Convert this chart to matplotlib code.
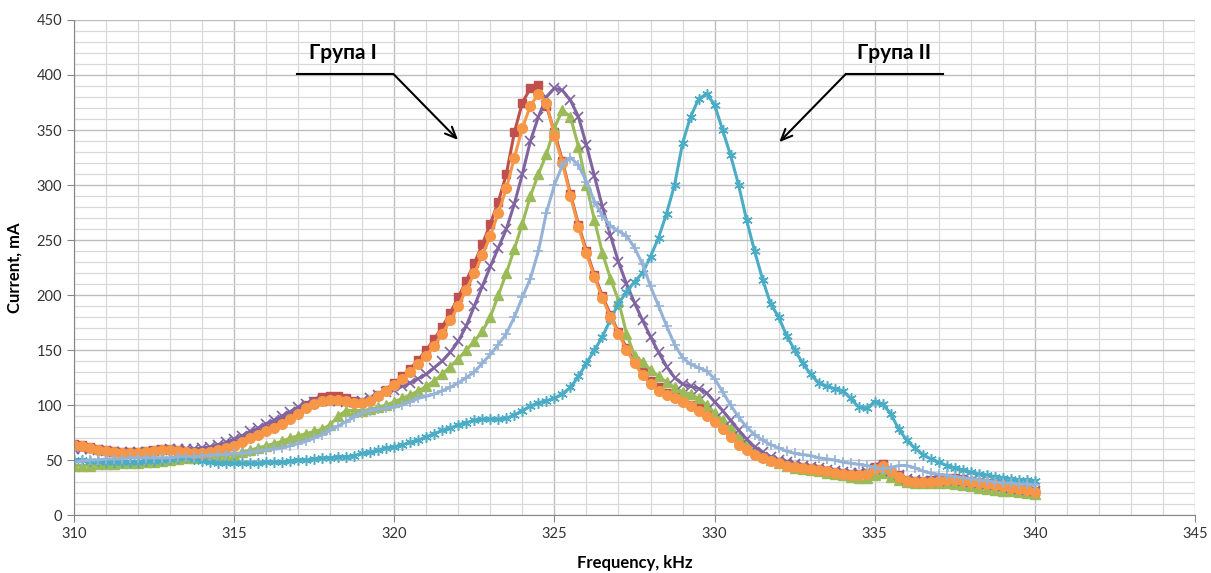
import numpy as np
import matplotlib
matplotlib.use("Agg")
import matplotlib.pyplot as plt
from matplotlib.ticker import MultipleLocator

plt.rcParams['font.family'] = ['Lato', 'Open Sans', 'DejaVu Sans']

# frequency grid, kHz (one reading every 0.25 kHz)
freq = np.arange(310, 340.001, 0.25)

# current readings, mA
red_sq = [
    65, 64, 62, 60, 59, 58, 57, 57,
    57, 58, 59, 60, 60, 59, 58, 57,
    57, 58, 60, 62, 65, 68, 72, 75,
    78, 82, 86, 90, 95, 100, 104, 107,
    108, 108, 106, 104, 103, 105, 109, 114,
    120, 126, 133, 141, 150, 160, 171, 184,
    198, 213, 229, 246, 265, 285, 310, 348,
    375, 388, 391, 372, 348, 322, 292, 264,
    240, 218, 199, 182, 166, 152, 140, 130,
    122, 116, 111, 107, 104, 100, 97, 92,
    87, 81, 74, 67, 61, 57, 53, 50,
    48, 46, 45, 44, 43, 42, 40, 39,
    38, 37, 37, 38, 44, 46, 41, 36,
    32, 31, 31, 32, 33, 34, 34, 33,
    31, 30, 29, 28, 27, 26, 25, 24,
    22,
]

green_tri = [
    45, 45, 45, 46, 46, 46, 47, 47,
    47, 48, 48, 49, 50, 51, 52, 52,
    53, 53, 53, 54, 55, 57, 59, 61,
    63, 65, 67, 70, 72, 74, 76, 78,
    82, 90, 95, 95, 95, 96, 98, 100,
    103, 106, 109, 113, 117, 122, 128, 135,
    142, 150, 158, 167, 180, 200, 220, 242,
    265, 290, 310, 328, 352, 368, 362, 335,
    300, 268, 238, 215, 195, 165, 145, 139,
    132, 126, 121, 116, 112, 110, 106, 100,
    93, 86, 79, 71, 64, 58, 54, 50,
    47, 45, 43, 42, 41, 40, 38, 37,
    36, 35, 34, 34, 36, 38, 35, 32,
    30, 29, 29, 29, 29, 29, 28, 27,
    26, 25, 24, 23, 22, 22, 21, 20,
    19,
]

purple_x = [
    60, 60, 60, 59, 58, 57, 57, 57,
    57, 57, 58, 59, 60, 60, 60, 60,
    61, 62, 64, 66, 69, 72, 76, 79,
    83, 86, 90, 94, 98, 101, 103, 104,
    104, 104, 103, 103, 104, 106, 109, 112,
    114, 117, 120, 124, 128, 134, 140, 148,
    158, 172, 190, 208, 226, 243, 260, 283,
    310, 340, 362, 380, 388, 386, 377, 362,
    336, 308, 280, 254, 230, 210, 193, 177,
    162, 148, 135, 125, 119, 117, 115, 111,
    103, 95, 86, 77, 69, 62, 57, 53,
    50, 48, 46, 45, 44, 43, 41, 40,
    39, 38, 38, 39, 42, 44, 40, 36,
    33, 32, 31, 31, 31, 32, 32, 31,
    30, 29, 28, 27, 26, 25, 24, 23,
    22,
]

teal_star = [
    50, 50, 49, 49, 48, 48, 48, 48,
    48, 49, 49, 50, 51, 52, 53, 51,
    49, 48, 47, 47, 47, 47, 47, 47,
    48, 48, 48, 49, 50, 50, 51, 52,
    52, 53, 53, 54, 56, 57, 59, 61,
    62, 64, 66, 68, 71, 74, 77, 79,
    82, 84, 86, 87, 87, 87, 88, 91,
    95, 99, 102, 104, 106, 110, 116, 126,
    138, 150, 162, 178, 192, 203, 212, 220,
    235, 252, 274, 300, 338, 362, 378, 383,
    373, 350, 327, 300, 268, 240, 214, 192,
    180, 163, 150, 138, 128, 120, 117, 115,
    113, 106, 98, 97, 103, 101, 92, 78,
    68, 61, 55, 51, 48, 45, 43, 41,
    39, 37, 36, 35, 34, 33, 32, 32,
    31,
]

orange_o = [
    64, 63, 61, 59, 58, 57, 56, 56,
    56, 57, 58, 59, 59, 58, 57, 56,
    56, 57, 59, 61, 63, 66, 70, 73,
    76, 79, 83, 87, 92, 97, 101, 104,
    105, 105, 104, 102, 102, 104, 108, 113,
    118, 124, 130, 137, 145, 154, 165, 177,
    190, 205, 220, 236, 254, 275, 297, 325,
    352, 372, 383, 375, 345, 320, 290, 262,
    238, 216, 197, 180, 165, 150, 138, 127,
    119, 113, 109, 106, 103, 99, 95, 90,
    85, 78, 71, 64, 59, 55, 52, 49,
    47, 45, 44, 43, 42, 41, 40, 38,
    37, 36, 36, 37, 42, 45, 40, 35,
    31, 30, 30, 30, 31, 32, 32, 31,
    30, 29, 28, 27, 26, 25, 24, 23,
    21,
]

lblue_plus = [
    48, 49, 50, 50, 51, 51, 51, 52,
    52, 52, 52, 52, 52, 53, 53, 53,
    54, 54, 55, 55, 56, 56, 57, 58,
    59, 60, 61, 63, 65, 67, 70, 73,
    77, 81, 85, 89, 93, 95, 96, 97,
    98, 100, 103, 106, 108, 110, 113, 116,
    120, 125, 130, 138, 146, 155, 165, 180,
    198, 215, 240, 275, 300, 318, 325, 318,
    303, 285, 272, 263, 258, 254, 243, 228,
    208, 190, 172, 155, 143, 137, 134, 131,
    124, 112, 100, 89, 80, 73, 68, 64,
    61, 58, 56, 55, 54, 52, 51, 50,
    48, 47, 46, 45, 43, 42, 43, 45,
    45, 43, 40, 38, 37, 36, 35, 34,
    33, 32, 31, 30, 29, 29, 28, 28,
    27,
]

series = [
    (red_sq, '#C0504D', 's', 6.0, 0),
    (green_tri, '#9BBB59', '^', 7.0, 0),
    (purple_x, '#8064A2', 'x', 6.5, 1.2),
    (teal_star, '#4BACC6', (6, 2, 0), 7.5, 1.1),
    (orange_o, '#F79646', 'o', 7.0, 0),
    (lblue_plus, '#95B3D7', '+', 7.5, 1.2),
]

fig = plt.figure(figsize=(12.11, 5.73), dpi=100)
ax = fig.add_axes([0.0611, 0.1012, 0.9257, 0.8639])

for vals, col, mk, ms, mew in series:
    if mew:
        ax.plot(freq, vals, color=col, lw=2.2, marker=mk, ms=ms, mew=mew,
                mec=col)
    else:
        ax.plot(freq, vals, color=col, lw=2.2, marker=mk, ms=ms, mec=col,
                mfc=col)

ax.set_xlim(310, 345)
ax.set_ylim(0, 450)
ax.xaxis.set_major_locator(MultipleLocator(5))
ax.xaxis.set_minor_locator(MultipleLocator(1))
ax.yaxis.set_major_locator(MultipleLocator(50))
ax.yaxis.set_minor_locator(MultipleLocator(10))
ax.grid(which='major', color='#BDBDBD', lw=1.0)
ax.grid(which='minor', color='#D9D9D9', lw=0.9)
ax.set_axisbelow(True)

for s in ['top', 'right']:
    ax.spines[s].set_visible(False)
for s in ['left', 'bottom']:
    ax.spines[s].set_color('#868686')
ax.tick_params(which='major', length=5, color='#868686',
               labelsize=10.5, labelcolor='#333333')
ax.tick_params(which='minor', length=0)

ax.set_xlabel('Frequency, kHz', fontsize=12, fontweight='bold', labelpad=10)
ax.set_ylabel('Current, mA', fontsize=12, fontweight='bold', labelpad=10)

# group labels with pointer arrows
ax.text(318.4, 411, 'Група I', fontsize=15, fontweight='bold',
        ha='center', va='bottom')
ax.plot([316.96, 319.97], [401, 401], color='black', lw=1.5)
ax.annotate('', xy=(321.99, 341), xytext=(319.97, 401),
            arrowprops=dict(arrowstyle='->,head_length=0.8,head_width=0.35',
                            color='black', lw=1.5, shrinkA=0, shrinkB=0))

ax.text(335.6, 411, 'Група II', fontsize=15, fontweight='bold',
        ha='center', va='bottom')
ax.plot([334.1, 337.14], [401, 401], color='black', lw=1.5)
ax.annotate('', xy=(332.02, 339), xytext=(334.1, 401),
            arrowprops=dict(arrowstyle='->,head_length=0.8,head_width=0.35',
                            color='black', lw=1.5, shrinkA=0, shrinkB=0))

fig.savefig('out.png', dpi=100)
